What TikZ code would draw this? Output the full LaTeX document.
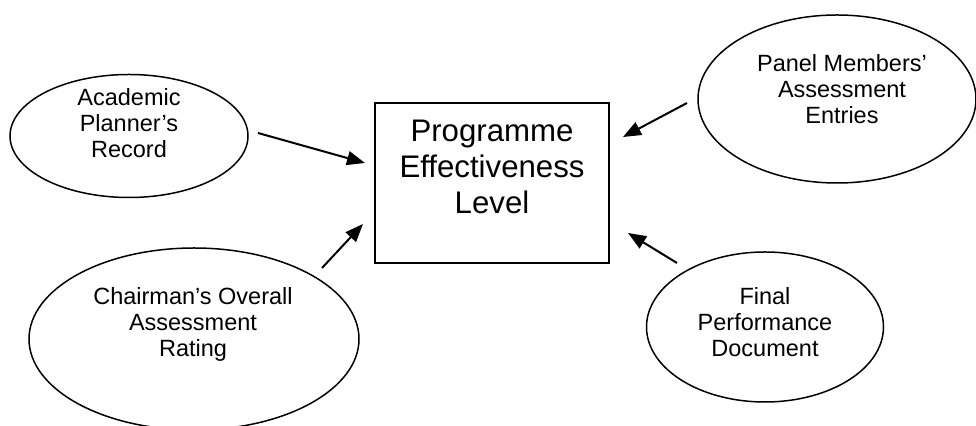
\documentclass[tikz,border=0pt]{standalone}
\usepackage{fontspec}
\setmainfont{Liberation Sans}
\usetikzlibrary{shapes.geometric,arrows.meta}
\tikzstyle{bulle} = [ellipse, draw=black, line width=0.75pt, inner sep=0pt]
\tikzstyle{cadre} = [rectangle, draw=black, line width=0.75pt, inner sep=0pt]
\tikzstyle{petit} = [align=center, inner sep=0pt, font=\fontsize{11.75}{13}\selectfont]
\tikzstyle{grand} = [align=center, inner sep=0pt, font=\fontsize{15.6}{18}\selectfont]
\tikzstyle{fleche} = [-{Triangle[length=9pt,width=7pt]}, line width=1pt]

\begin{document}
\begin{tikzpicture}[x=0.5pt, y=-0.5pt]

        \useasboundingbox (0,0) rectangle (976,426);

        \node (niveau) [cadre, minimum width=117pt, minimum height=80pt] at (492,183) {};
        \node (niveautxt) [grand] at (492,167) {Programme\\Effectiveness\\Level};

        \node (planif) [bulle, minimum width=119pt, minimum height=61.5pt] at (129,136) {};
        \node (planiftxt) [petit] at (129,123) {Academic\\Planner’s\\Record};

        \node (panel) [bulle, minimum width=139pt, minimum height=84pt] at (837,99) {};
        \node (paneltxt) [petit] at (842,89) {Panel Members’\\Assessment\\Entries};

        \node (chair) [bulle, minimum width=165pt, minimum height=91pt] at (194,339) {};
        \node (chairtxt) [petit] at (193,324) {Chairman’s Overall\\Assessment\\Rating};

        \node (final) [bulle, minimum width=118.5pt, minimum height=75pt] at (765,327) {};
        \node (finaltxt) [petit] at (765,322) {Final\\Performance\\Document};


        \coordinate (p1) at (258,133);
        \coordinate (p2) at (365,163);
        \coordinate (m1) at (687,103);
        \coordinate (m2) at (623,137);
        \coordinate (c1) at (322,268);
        \coordinate (c2) at (363,224);
        \coordinate (f1) at (677,263);
        \coordinate (f2) at (628,233);

        \draw[fleche] (p1) -- (p2);
        \draw[fleche] (m1) -- (m2);
        \draw[fleche] (c1) -- (c2);
        \draw[fleche] (f1) -- (f2);

    \end{tikzpicture}
\end{document}
